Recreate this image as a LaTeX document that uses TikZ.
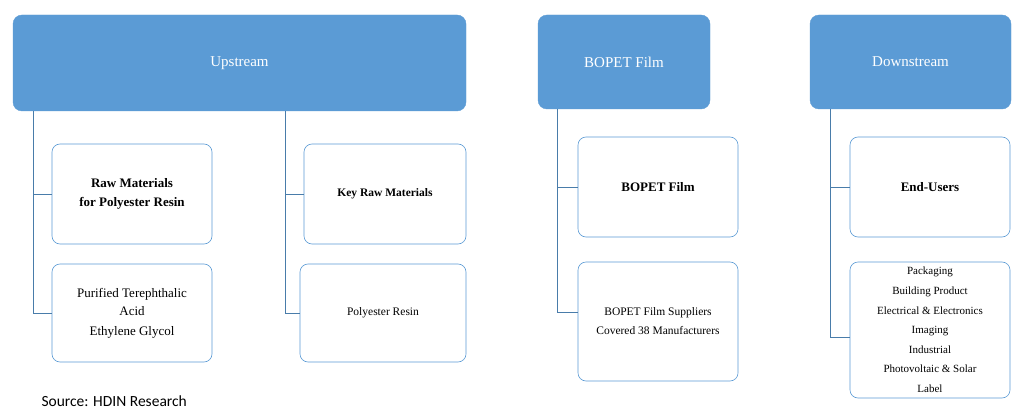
\documentclass[tikz,border=0pt]{standalone}
\usepackage{fontspec}
\setmainfont{Liberation Serif}
\newfontfamily\srcfont{Carlito}
\definecolor{hb}{HTML}{5B9BD5}
\begin{document}
\begin{tikzpicture}[x=1pt,y=-1pt,
 hdr/.style={fill=hb,draw=hb,rounded corners=9pt,text=white,font=\fontsize{15}{18}\selectfont},
 box/.style={draw=hb,rounded corners=8pt,line width=0.6pt,align=center},
 ln/.style={draw=hb!80!black,line width=0.7pt}]
\useasboundingbox (0,0) rectangle (1019,417);
\fill[white] (0,0) rectangle (1019,417);
\node[hdr,minimum width=453pt,minimum height=96pt] (h1) at (239.5,63) {Upstream};
\node[hdr,minimum width=172pt,minimum height=94pt] (h2) at (624,62) {BOPET Film};
\node[hdr,minimum width=201pt,minimum height=94pt] (h3) at (910.5,62) {Downstream};
\node[box,minimum width=160pt,minimum height=100pt,font=\bfseries\fontsize{13}{19}\selectfont] (a1) at (132,194) {Raw Materials\\for Polyester Resin};
\node[box,minimum width=160pt,minimum height=98pt,font=\fontsize{13}{18}\selectfont] (a2) at (132,313) {Purified Terephthalic\\Acid\\[2pt]Ethylene Glycol};
\node[box,minimum width=162pt,minimum height=100pt,font=\bfseries\fontsize{11.5}{14}\selectfont] (b1) at (385,194) {Key Raw Materials};
\node[box,minimum width=166pt,minimum height=98pt,font=\fontsize{11.5}{14}\selectfont] (b2) at (383,313) {Polyester Resin};
\node[box,minimum width=160pt,minimum height=100pt,font=\bfseries\fontsize{13}{16}\selectfont] (c1) at (658,187) {BOPET Film};
\node[box,minimum width=160pt,minimum height=119pt,font=\fontsize{11.5}{19}\selectfont] (c2) at (658,321.5) {BOPET Film Suppliers\\Covered 38 Manufacturers};
\node[box,minimum width=160pt,minimum height=100pt,font=\bfseries\fontsize{13}{16}\selectfont] (d1) at (930,187) {End-Users};
\node[box,minimum width=160pt,minimum height=136pt,font=\fontsize{11}{19.6}\selectfont] (d2) at (930,330) {Packaging\\Building Product\\Electrical \& Electronics\\Imaging\\Industrial\\Photovoltaic \& Solar\\Label};
\coordinate (p1) at (33,111); \coordinate (p2) at (285,111);
\coordinate (p3) at (557,109); \coordinate (p4) at (830,109);
\draw[ln] (p1) |- (a2.west); \draw[ln] (p1|-a1.west) -- (a1.west);
\draw[ln] (p2) |- (b2.west); \draw[ln] (p2|-b1.west) -- (b1.west);
\draw[ln] (p3) |- (c2.west|-0,312); \draw[ln] (p3|-c1.west) -- (c1.west);
\draw[ln] (p4) |- (d2.west|-0,337); \draw[ln] (p4|-d1.west) -- (d1.west);
\node[anchor=west,font=\srcfont\fontsize{15.5}{18}\selectfont] (src) at (38,401) {Source: HDIN Research};
\end{tikzpicture}
\end{document}
